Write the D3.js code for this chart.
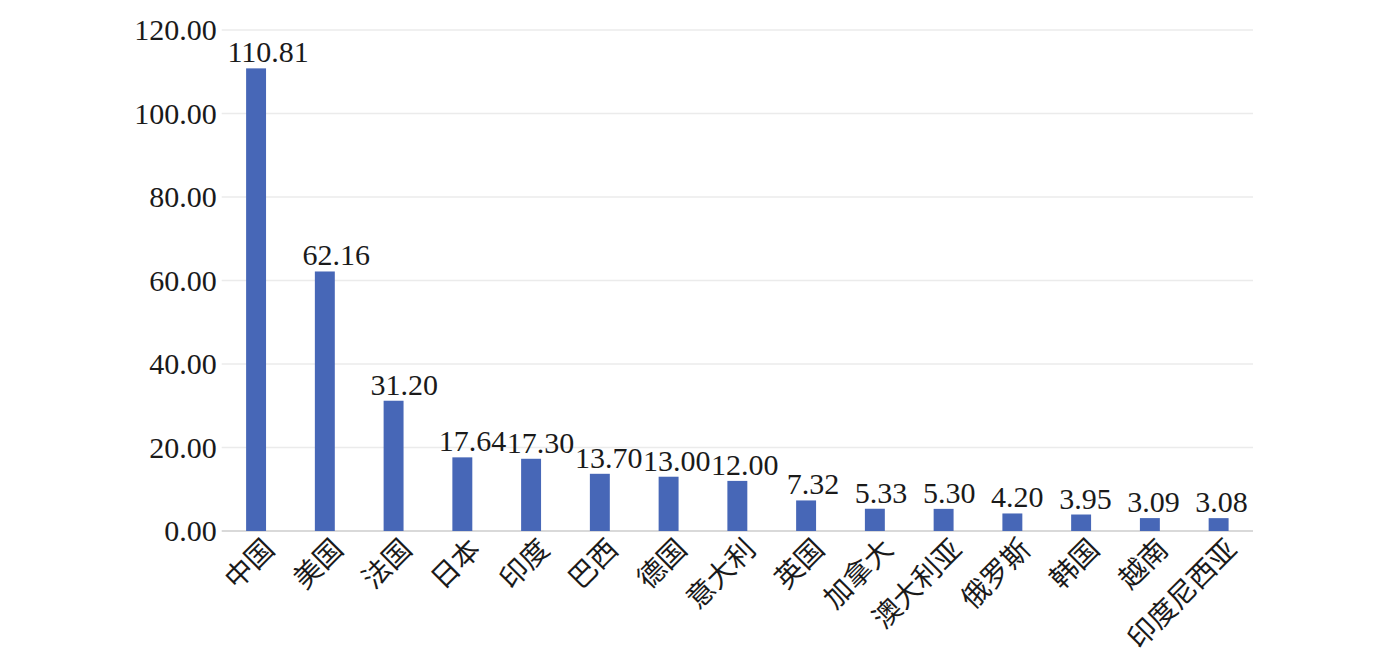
<!DOCTYPE html>
<html><head><meta charset="utf-8">
<script src="https://cdn.jsdelivr.net/npm/d3@7"></script>
<style>
html,body{margin:0;padding:0;background:#fff;}
svg{display:block;}
</style></head>
<body>
<svg id="chart" width="1378" height="655"></svg>
<script>
const categories = ["中国","美国","法国","日本","印度","巴西","德国","意大利","英国","加拿大","澳大利亚","俄罗斯","韩国","越南","印度尼西亚"];
const values = [110.81,62.16,31.20,17.64,17.30,13.70,13.00,12.00,7.32,5.33,5.30,4.20,3.95,3.09,3.08];
const yTicks = [0,20,40,60,80,100,120];

const svg = d3.select("#chart");
const plotLeft = 221.7, plotRight = 1253, plotTop = 30, plotBottom = 531;

const x = d3.scaleBand().domain(categories).range([plotLeft, plotRight]).paddingInner(0.71).paddingOuter(0.355);
const y = d3.scaleLinear().domain([0,120]).range([plotBottom, plotTop]);
const labelShift = d3.scaleLinear().domain([0, categories.length-1]).range([12, 3]);

const serif = "'Liberation Serif','Times New Roman',serif";
const cjk = "'Noto Sans CJK SC','Noto Sans CJK JP',sans-serif";

// gridlines
svg.append("g").selectAll("line").data(yTicks).join("line")
  .attr("x1", plotLeft).attr("x2", plotRight)
  .attr("y1", d=>y(d)).attr("y2", d=>y(d))
  .attr("stroke", d=> d===0 ? "#d9d9d9" : "#ebebeb")
  .attr("stroke-width", d=> d===0 ? 2 : 1.5);

// y tick labels
svg.append("g").selectAll("text").data(yTicks).join("text")
  .attr("x", plotLeft - 5).attr("y", d=>y(d)).attr("dy","0.34em")
  .attr("text-anchor","end")
  .style("font-family", serif).style("font-size","30px").style("fill","#1a1a1a")
  .text(d=>d3.format(".2f")(d));

// bars
svg.append("g").selectAll("rect").data(values).join("rect")
  .attr("x", (d,i)=>x(categories[i]))
  .attr("width", x.bandwidth())
  .attr("y", d=>y(d))
  .attr("height", d=>y(0)-y(d))
  .attr("fill", "#4767b7");

// value labels
svg.append("g").selectAll("text").data(values).join("text")
  .attr("x", (d,i)=>x(categories[i]) + x.bandwidth()/2 + labelShift(i))
  .attr("y", d=>y(d) - 6)
  .attr("text-anchor","middle")
  .style("font-family", serif).style("font-size","30px").style("fill","#1a1a1a")
  .text(d=>d3.format(".2f")(d));

// category labels
svg.append("g").selectAll("text").data(categories).join("text")
  .attr("transform", d=>`translate(${x(d)+x.bandwidth()/2+20},${plotBottom+20}) rotate(-45)`)
  .attr("text-anchor","end")
  .style("font-family", cjk).style("font-size","28px").style("fill","#1a1a1a")
  .text(d=>d);
</script>
</body></html>
